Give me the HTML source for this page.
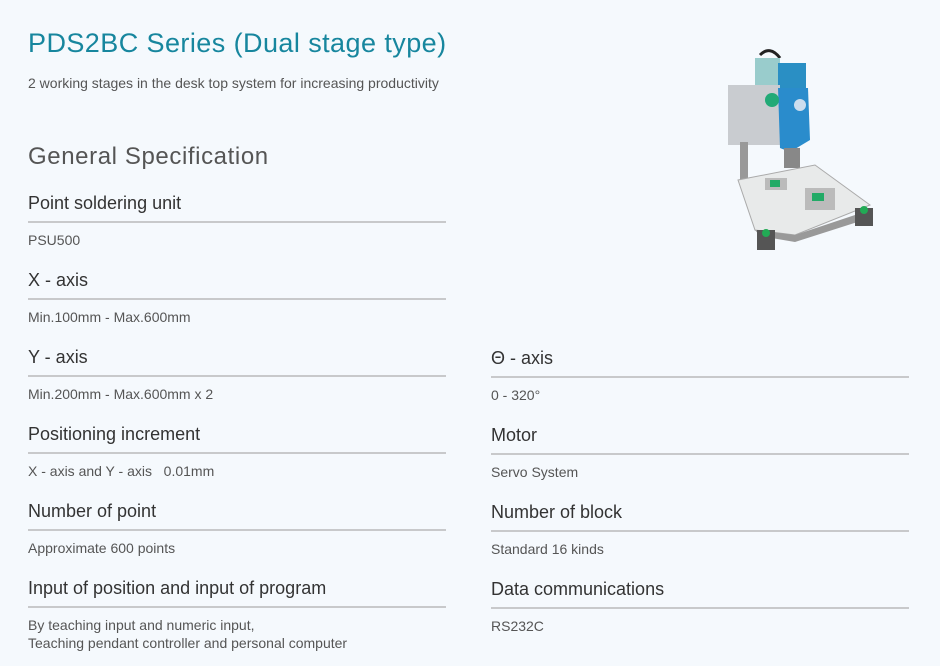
<!DOCTYPE html>
<html><head><meta charset="utf-8"><style>
body{margin:0;width:940px;height:666px;background:#f5f9fd;position:relative;overflow:hidden;font-family:"Liberation Sans",sans-serif}
.a{position:absolute;white-space:nowrap}
.t{left:28px;top:28px;font-size:27px;color:#17869e;letter-spacing:0.43px}
.s{left:28px;top:75px;font-size:14px;color:#555}
.g{left:28px;top:143px;font-size:24px;color:#555;letter-spacing:0.6px}
.h{font-size:18px;color:#333}
.v{font-size:14px;color:#555;line-height:18px}
.l{position:absolute;height:2px;background:#c8c9cb;width:418px}
</style></head><body>
<div class="a t">PDS2BC Series (Dual stage type)</div>
<div class="a s">2 working stages in the desk top system for increasing productivity</div>
<div class="a g">General Specification</div>

<div class="a h" style="left:28px;top:193px">Point soldering unit</div><div class="l" style="left:28px;top:221px"></div><div class="a v" style="left:28px;top:231px">PSU500</div>
<div class="a h" style="left:28px;top:270px">X - axis</div><div class="l" style="left:28px;top:298px"></div><div class="a v" style="left:28px;top:308px">Min.100mm - Max.600mm</div>
<div class="a h" style="left:28px;top:347px">Y - axis</div><div class="l" style="left:28px;top:375px"></div><div class="a v" style="left:28px;top:385px">Min.200mm - Max.600mm x 2</div>
<div class="a h" style="left:28px;top:424px">Positioning increment</div><div class="l" style="left:28px;top:452px"></div><div class="a v" style="left:28px;top:462px">X - axis and Y - axis &nbsp;&nbsp;0.01mm</div>
<div class="a h" style="left:28px;top:501px">Number of point</div><div class="l" style="left:28px;top:529px"></div><div class="a v" style="left:28px;top:539px">Approximate 600 points</div>
<div class="a h" style="left:28px;top:578px">Input of position and input of program</div><div class="l" style="left:28px;top:606px"></div><div class="a v" style="left:28px;top:616px">By teaching input and numeric input,<br>Teaching pendant controller and personal computer</div>

<div class="a h" style="left:491px;top:348px">Θ - axis</div><div class="l" style="left:491px;top:376px"></div><div class="a v" style="left:491px;top:386px">0 - 320°</div>
<div class="a h" style="left:491px;top:425px">Motor</div><div class="l" style="left:491px;top:453px"></div><div class="a v" style="left:491px;top:463px">Servo System</div>
<div class="a h" style="left:491px;top:502px">Number of block</div><div class="l" style="left:491px;top:530px"></div><div class="a v" style="left:491px;top:540px">Standard 16 kinds</div>
<div class="a h" style="left:491px;top:579px">Data communications</div><div class="l" style="left:491px;top:607px"></div><div class="a v" style="left:491px;top:617px">RS232C</div>

<svg class="a" style="left:700px;top:30px" width="200" height="240" viewBox="0 0 200 240">
<path d="M60 25 Q70 15 80 28" stroke="#222" stroke-width="3" fill="none"/>
<rect x="55" y="28" width="25" height="30" fill="#9cc"/>
<rect x="78" y="33" width="28" height="25" fill="#2a8fc4"/>
<rect x="28" y="55" width="52" height="60" fill="#c9ccd0"/>
<polygon points="78,58 108,58 110,110 90,122 80,118" fill="#2a8ccc"/>
<circle cx="100" cy="75" r="6" fill="#cde"/>
<circle cx="72" cy="70" r="7" fill="#2a7"/>
<rect x="40" y="112" width="8" height="45" fill="#999"/>
<rect x="84" y="118" width="16" height="20" fill="#888"/>
<polygon points="38,150 115,135 170,175 95,205 55,200" fill="#e8eaea" stroke="#aaa"/>
<rect x="65" y="148" width="22" height="12" fill="#bbb"/><rect x="70" y="150" width="10" height="7" fill="#2a6"/>
<rect x="105" y="158" width="30" height="22" fill="#bbb"/><rect x="112" y="163" width="12" height="8" fill="#2a6"/>
<polygon points="55,200 95,205 170,180 170,188 95,212 60,206" fill="#999"/>
<rect x="57" y="200" width="18" height="20" fill="#555"/><circle cx="66" cy="203" r="4" fill="#2a5"/>
<rect x="155" y="178" width="18" height="18" fill="#555"/><circle cx="164" cy="180" r="4" fill="#2a5"/>
</svg>
</body></html>
